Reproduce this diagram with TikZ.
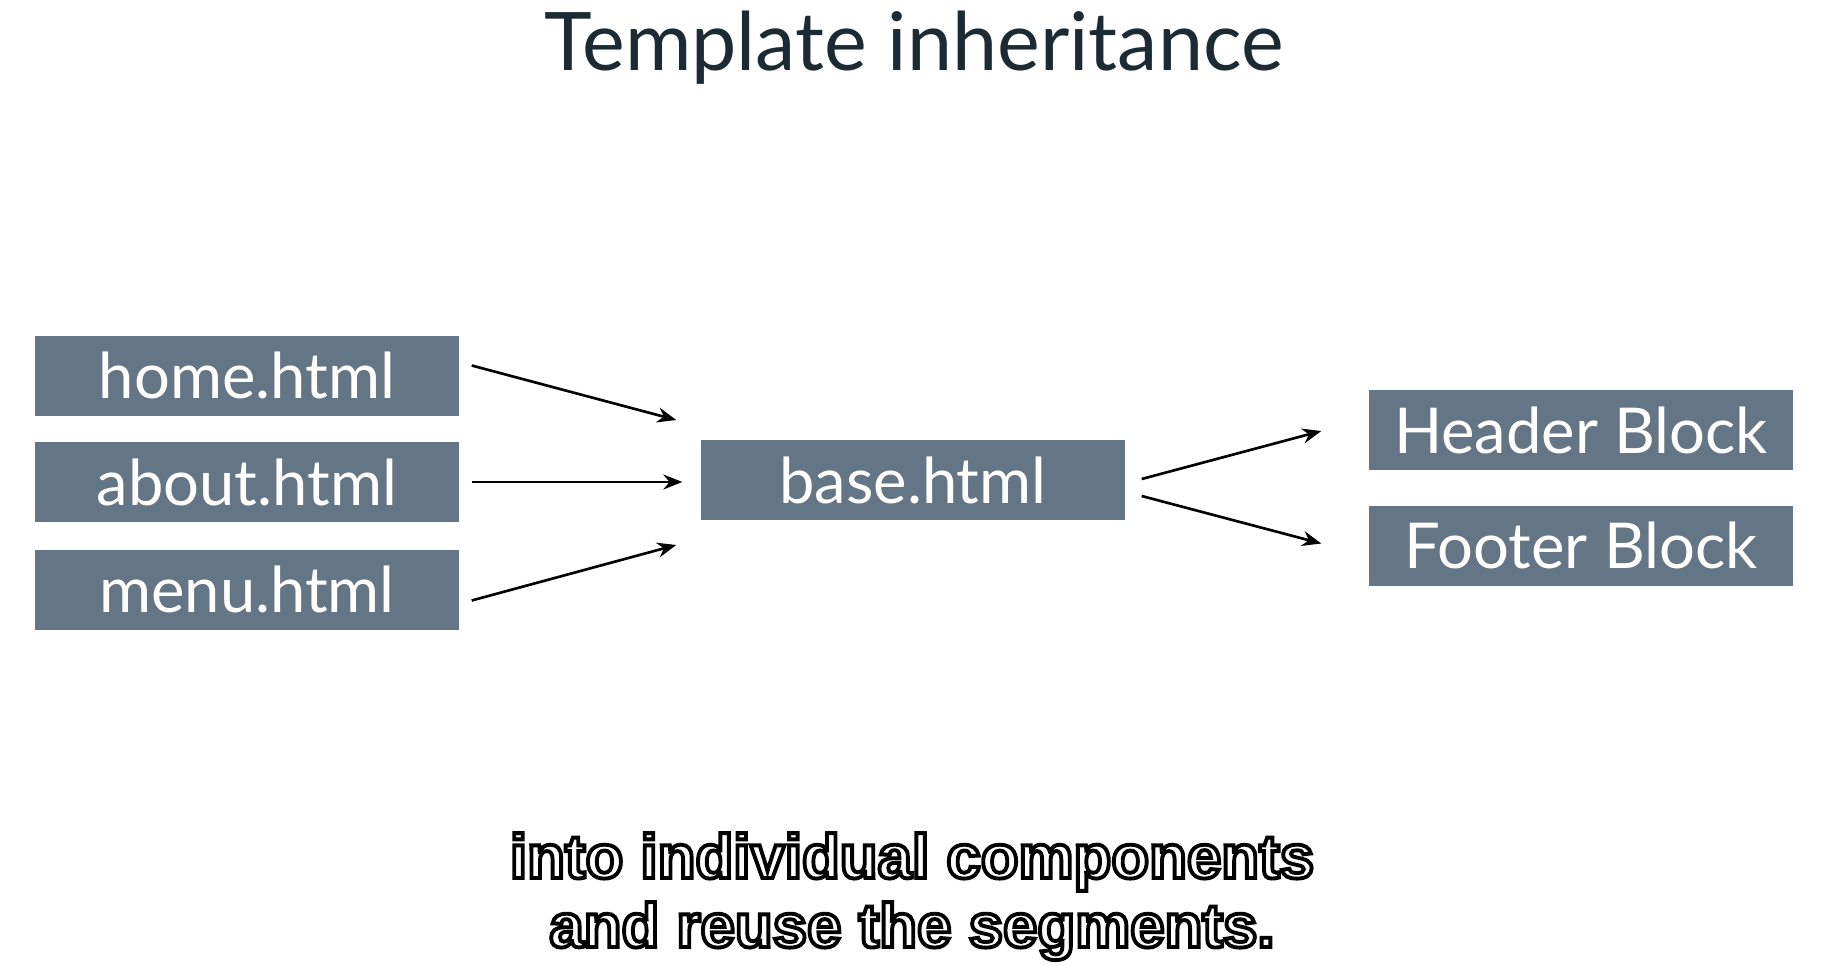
\documentclass[tikz,border=0pt]{standalone}
\usepackage{fontspec}
\setmainfont{Lato}
\newfontfamily\capfont{Liberation Sans}
\usetikzlibrary{arrows.meta}
\definecolor{slate}{RGB}{100,117,133}
\definecolor{ink}{RGB}{28,43,51}
% white letters with a thin black outline
\newcommand{\outlined}[1]{\special{pdf:literal direct 2 Tr 1.1 w 0 G}#1\special{pdf:literal direct 0 Tr}}

\begin{document}
\begin{tikzpicture}[
  x=0.1mm, y=-0.1mm,
  >={Stealth[length=1.9mm, width=1.5mm]},
  file/.style={rectangle, fill=slate, text=white, inner sep=0pt,
               minimum width=42.4mm, minimum height=8mm,
               font=\fontsize{18}{20}\selectfont},
  arr/.style={->, draw=black, line width=0.75pt},
  subline/.style={anchor=base, text=white, font=\capfont\bfseries\fontsize{17.6}{22}\selectfont}
]
\useasboundingbox[fill=white] (0,0) rectangle (1830,966);
\node[anchor=base, text=ink, font=\fontsize{23}{26}\selectfont] (title) at (914,70) {Template inheritance};
% --- Pages ---
\node[file] (home)  at (247,375.5) {home.html};
\node[file] (about) at (247,482)   {about.html};
\node[file] (menu)  at (247,589.5) {menu.html};
% --- Base and blocks ---
\node[file] (base)   at (913,480)    {base.html};
\node[file] (header) at (1581,430)   {Header Block};
\node[file] (footer) at (1581,545.5) {Footer Block};
\draw[arr] ([shift={(12,-10)}]home.east) -- ([shift={(-24,-60)}]base.west);
\draw[arr] ([shift={(12,0)}]about.east) -- ([shift={(-18,2)}]base.west);
\draw[arr] ([shift={(12,11)}]menu.east) -- ([shift={(-24,65)}]base.west);
\draw[arr] ([shift={(16,-1)}]base.east) -- ([shift={(-47,1)}]header.west);
\draw[arr] ([shift={(16,16)}]base.east) -- ([shift={(-47,-2)}]footer.west);
% --- Caption ---
\node[subline] (line1) at (912,878) {\outlined{into individual components}};
\node[subline] (line2) at (912,947) {\outlined{and reuse the segments.}};
\end{tikzpicture}
\end{document}
